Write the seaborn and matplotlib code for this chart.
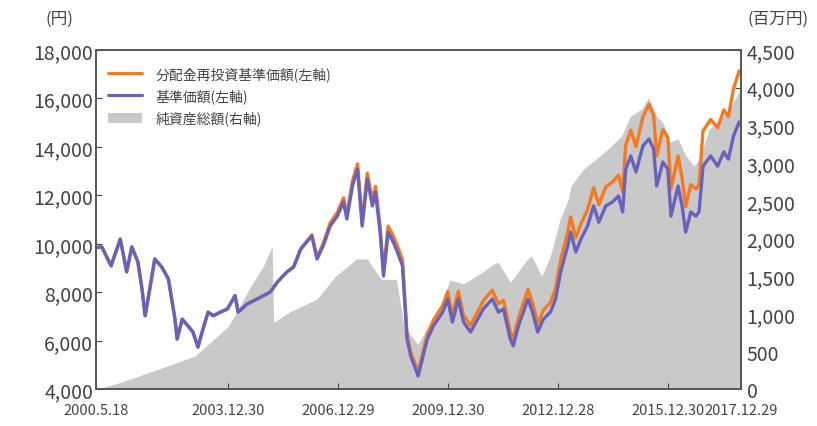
import pandas as pd
import matplotlib.pyplot as plt
from matplotlib.lines import Line2D
from matplotlib.patches import Patch
from matplotlib.ticker import FuncFormatter
import seaborn as sns

# 基準価額 / 分配金再投資基準価額 (left axis, yen)
nav_dates = [
    "2000-05-18", "2000-07-15", "2000-10-15", "2001-01-15", "2001-03-20", "2001-05-10",
    "2001-07-10", "2001-08-20", "2001-09-20", "2001-11-05", "2001-12-25", "2002-03-05",
    "2002-05-10", "2002-07-15", "2002-08-05", "2002-09-25", "2002-11-20", "2003-01-10",
    "2003-03-01", "2003-04-20", "2003-06-10", "2003-08-01", "2003-10-10", "2003-12-20",
    "2004-03-05", "2004-04-05", "2004-07-05", "2004-10-10", "2005-02-20", "2005-05-01",
    "2005-08-05", "2005-10-10", "2005-12-20", "2006-04-10", "2006-06-01", "2006-08-01",
    "2006-10-10", "2006-12-20", "2007-02-20", "2007-03-25", "2007-05-20", "2007-07-10",
    "2007-08-25", "2007-10-15", "2007-12-05", "2008-01-05", "2008-02-20", "2008-03-25",
    "2008-05-10", "2008-06-30", "2008-08-10", "2008-09-30", "2008-11-15", "2008-12-20",
    "2009-03-05", "2009-06-05", "2009-08-05", "2009-11-05", "2009-12-25", "2010-02-10",
    "2010-04-10", "2010-06-01", "2010-08-10", "2010-10-20", "2010-12-15", "2011-03-15",
    "2011-05-15", "2011-07-05", "2011-09-10", "2011-10-10", "2011-12-01", "2012-03-05",
    "2012-04-20", "2012-06-10", "2012-08-05", "2012-10-15", "2012-12-05", "2013-01-25",
    "2013-04-05", "2013-05-05", "2013-06-25", "2013-08-15", "2013-10-20", "2013-12-20",
    "2014-02-10", "2014-04-20", "2014-06-25", "2014-08-25", "2014-10-05", "2014-11-05",
    "2014-12-25", "2015-02-15", "2015-04-25", "2015-06-25", "2015-08-10", "2015-09-10",
    "2015-11-10", "2015-12-30", "2016-01-30", "2016-04-10", "2016-05-20", "2016-06-25",
    "2016-08-15", "2016-10-05", "2016-11-05", "2016-12-15", "2017-03-01", "2017-05-10",
    "2017-07-10", "2017-08-25", "2017-10-15", "2017-12-10", "2017-12-29",
]
nav = [
    9850, 9880, 9100, 10200, 8850, 9880,
    9260, 8140, 7040, 8140, 9380, 9050,
    8560, 6900, 6080, 6900, 6630, 6370,
    5750, 6490, 7190, 7040, 7190, 7320,
    7870, 7190, 7530, 7730, 8020, 8430,
    8850, 9050, 9790, 10330, 9380, 9920,
    10740, 11150, 11730, 11030, 12390, 13090,
    10740, 12680, 11570, 12140, 10490, 8680,
    10490, 10080, 9670, 9100, 6080, 5400,
    4560, 6080, 6620, 7190, 7730, 6780,
    7730, 6780, 6370, 6900, 7320, 7730,
    7190, 7320, 6080, 5800, 6620, 7730,
    7190, 6370, 6900, 7190, 7730, 8850,
    9920, 10490, 9670, 10200, 10740, 11570,
    10900, 11570, 11730, 11980, 11320, 13090,
    13630, 12970, 14040, 14330, 13910, 12390,
    13380, 13090, 11150, 12390, 11570, 10490,
    11320, 11150, 11320, 13210, 13630, 13210,
    13800, 13500, 14450, 15030, 14900,
]
nav_reinvest = [
    9850, 9880, 9100, 10200, 8850, 9880,
    9260, 8140, 7040, 8140, 9380, 9050,
    8560, 6900, 6080, 6900, 6630, 6370,
    5750, 6490, 7190, 7040, 7190, 7320,
    7870, 7190, 7530, 7730, 8020, 8430,
    8850, 9050, 9790, 10380, 9455, 10020,
    10870, 11300, 11905, 11195, 12590, 13310,
    10935, 12920, 11800, 12380, 10720, 8870,
    10740, 10330, 9920, 9345, 6260, 5560,
    4705, 6290, 6860, 7465, 8040, 7050,
    8055, 7070, 6650, 7210, 7655, 8095,
    7535, 7680, 6385, 6090, 6950, 8130,
    7565, 6710, 7270, 7585, 8165, 9355,
    10495, 11120, 10250, 10830, 11415, 12320,
    11620, 12355, 12550, 12840, 12160, 14085,
    14690, 14010, 15235, 15760, 15300, 13630,
    14720, 14400, 12265, 13630, 12730, 11540,
    12450, 12265, 12450, 14665, 15130, 14795,
    15525, 15255, 16400, 17135, 16985,
]

# 純資産総額 (right axis, million yen)
aum_dates = [
    "2000-05-18", "2001-02-01", "2002-02-01", "2003-02-01", "2004-01-01", "2004-08-01",
    "2004-12-15", "2005-03-10", "2005-03-25", "2005-09-05", "2006-06-01", "2006-12-01",
    "2007-07-01", "2007-10-15", "2008-03-01", "2008-08-01", "2008-10-15", "2009-03-01",
    "2009-06-01", "2009-11-01", "2010-01-15", "2010-06-01", "2010-12-01", "2011-03-15",
    "2011-05-10", "2011-09-10", "2012-03-01", "2012-04-10", "2012-07-20", "2012-10-15",
    "2013-01-20", "2013-04-10", "2013-05-10", "2013-09-10", "2014-01-10", "2014-05-15",
    "2014-09-25", "2014-12-20", "2015-04-15", "2015-06-20", "2015-09-10", "2015-11-10",
    "2016-01-20", "2016-04-10", "2016-06-25", "2016-09-15", "2016-11-05", "2017-02-15",
    "2017-06-15", "2017-09-20", "2017-12-29",
]
aum = [
    0, 100, 270, 445, 840, 1350,
    1640, 1900, 890, 1030, 1200, 1500,
    1730, 1730, 1460, 1460, 840, 600,
    800, 1150, 1450, 1400, 1550, 1650,
    1690, 1420, 1730, 1770, 1500, 1770,
    2260, 2520, 2700, 2920, 3050, 3190,
    3360, 3620, 3720, 3870, 3620, 3540,
    3280, 3320, 3100, 2960, 3050, 3450,
    3600, 3750, 4000,
]

tick_dates = ["2000-05-18", "2003-12-30", "2006-12-29", "2009-12-30",
              "2012-12-28", "2015-12-30", "2017-12-29"]
tick_labels = ["2000.5.18", "2003.12.30", "2006.12.29", "2009.12.30",
               "2012.12.28", "2015.12.30", "2017.12.29"]

nav_df = pd.DataFrame({"date": pd.to_datetime(nav_dates), "nav": nav,
                       "nav_reinvest": nav_reinvest})
aum_df = pd.DataFrame({"date": pd.to_datetime(aum_dates), "aum": aum})

sns.set_style("ticks")
plt.rcParams["font.family"] = ["Noto Sans CJK JP", "DejaVu Sans"]
plt.rcParams["xtick.direction"] = "in"
plt.rcParams["ytick.direction"] = "in"

orange = "#F47A1F"
blue = "#6862BE"
gray = "#C9C9C9"
text_col = "#444444"

fig = plt.figure(figsize=(8.17, 4.27), dpi=100)
ax = fig.add_axes([0.1175, 0.0855, 0.7895, 0.7951])
ax2 = ax.twinx()

# net assets as grey area on the right axis, behind the lines
ax2.fill_between(aum_df["date"], 0, aum_df["aum"], color=gray, lw=0)
ax2.set_ylim(0, 4500)

sns.lineplot(data=nav_df, x="date", y="nav_reinvest", ax=ax, color=orange, lw=2.4)
sns.lineplot(data=nav_df, x="date", y="nav", ax=ax, color=blue, lw=2.4)

ax.set_zorder(ax2.get_zorder() + 1)
ax.patch.set_visible(False)

ax.set_ylim(4000, 18000)
ax.set_xlim(pd.Timestamp("2000-05-18"), pd.Timestamp("2017-12-29"))
ax.set_xlabel("")
ax.set_ylabel("")
ax2.set_ylabel("")

comma = FuncFormatter(lambda v, p: f"{int(v):,}")
ax.set_yticks(range(4000, 18001, 2000))
ax.yaxis.set_major_formatter(comma)
ax2.set_yticks(range(0, 4501, 500))
ax2.yaxis.set_major_formatter(comma)

ax.set_xticks(pd.to_datetime(tick_dates))
ax.set_xticklabels(tick_labels, fontsize=10.5, color=text_col)

ax.tick_params(axis="y", labelsize=14, colors=text_col, length=4, pad=2)
ax2.tick_params(axis="y", labelsize=14, colors=text_col, length=4, pad=4)
ax.tick_params(axis="x", length=4, pad=10, colors=text_col)
for a in (ax, ax2):
    for s in a.spines.values():
        s.set_color("#555555")
        s.set_linewidth(1.2)

fig.text(0.09, 0.955, "(円)", ha="right", va="center", fontsize=12, color=text_col)
fig.text(0.99, 0.955, "(百万円)", ha="right", va="center", fontsize=12, color=text_col)

handles = [Line2D([], [], color=orange, lw=2.2),
           Line2D([], [], color=blue, lw=2.2),
           Patch(facecolor=gray, edgecolor="none")]
labels = ["分配金再投資基準価額(左軸)", "基準価額(左軸)", "純資産総額(右軸)"]
ax.legend(handles, labels, loc="upper left", bbox_to_anchor=(0.0, 0.99),
          frameon=False, fontsize=10, handlelength=2.4, labelspacing=0.55,
          handletextpad=1.0, labelcolor=text_col)

fig.savefig("out.png", dpi=100)
